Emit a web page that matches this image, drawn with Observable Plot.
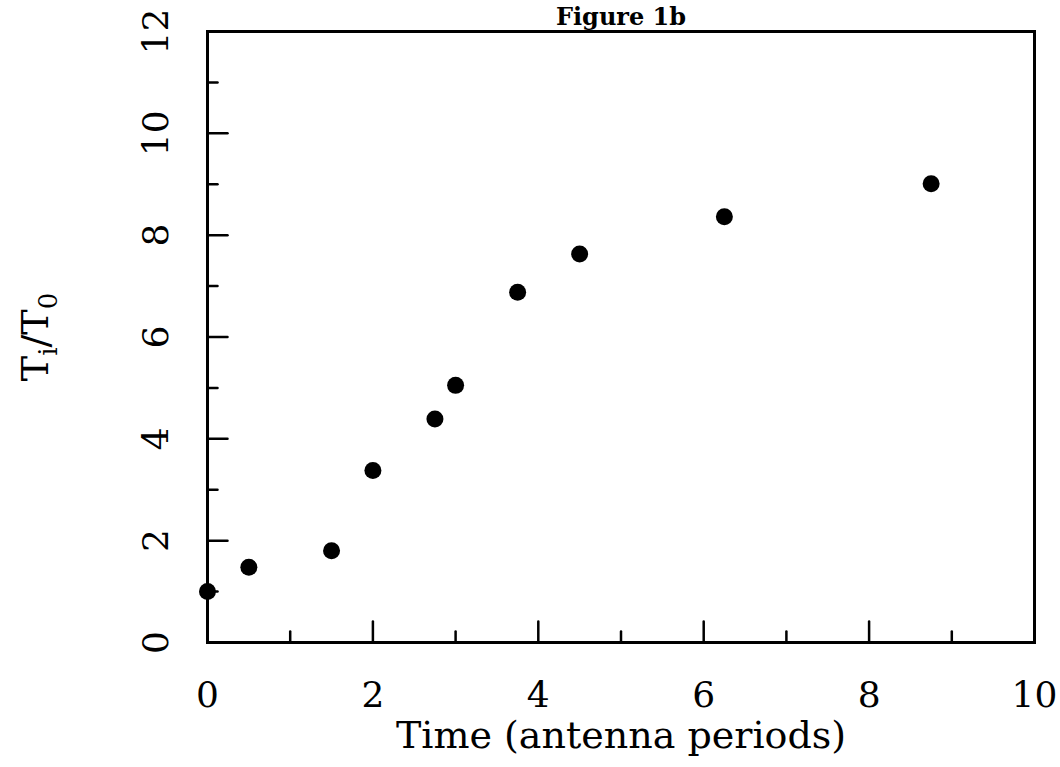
<!DOCTYPE html>
<html><head><meta charset="utf-8">
<script src="https://cdn.jsdelivr.net/npm/d3@7"></script>
<script src="https://cdn.jsdelivr.net/npm/@observablehq/plot@0.6"></script>
<style>html,body{margin:0;padding:0;background:#fff} #chart svg{display:block}</style>
</head><body><div id="chart"></div>
<script>
// Data
const times  = [0, 0.5, 1.5, 2, 2.75, 3, 3.75, 4.5, 6.25, 8.75];
const ratios = [1.0, 1.48, 1.8, 3.38, 4.39, 5.05, 6.88, 7.63, 8.36, 9.01];
const xTickLabels = [0, 2, 4, 6, 8, 10];
const xMajorTicks = [2, 4, 6, 8];
const xMinorTicks = [1, 3, 5, 7, 9];
const yTickLabels = [0, 2, 4, 6, 8, 10, 12];
const yMajorTicks = [2, 4, 6, 8, 10];
const yMinorTicks = [1, 3, 5, 7, 9, 11];
const titleText = "Figure 1b";
const xLabelText = "Time (antenna periods)";
const yLabelText = "Ti/T0";

const points = times.map((t, i) => ({t, r: ratios[i]}));
const font = "'DejaVu Serif', serif";
const tickShape = {draw(ctx, l) { ctx.moveTo(0, 0); ctx.lineTo(0, -l); }};

const plot = Plot.plot({
  width: 1060, height: 767,
  marginLeft: 207, marginRight: 26, marginTop: 31, marginBottom: 125,
  style: {fontFamily: font, color: "black", background: "white"},
  x: {domain: [0, 10]},
  y: {domain: [0, 12]},
  marks: [
    Plot.axisX({ticks: xTickLabels, tickSize: 0, tickPadding: 39, fontSize: 36, label: null, tickFormat: d => String(d)}),
    Plot.axisY({ticks: yTickLabels, tickSize: 0, tickPadding: 40, tickRotate: -90, fontSize: 36, label: null, tickFormat: d => String(d)}),
    Plot.vector(xMajorTicks, {x: d => d, y: 0, length: 21, rotate: 0, anchor: "start", shape: tickShape, stroke: "black", strokeWidth: 2.5}),
    Plot.vector(xMinorTicks, {x: d => d, y: 0, length: 11, rotate: 0, anchor: "start", shape: tickShape, stroke: "black", strokeWidth: 2.5}),
    Plot.vector(yMajorTicks, {x: 0, y: d => d, length: 20, rotate: 90, anchor: "start", shape: tickShape, stroke: "black", strokeWidth: 2.5}),
    Plot.vector(yMinorTicks, {x: 0, y: d => d, length: 10, rotate: 90, anchor: "start", shape: tickShape, stroke: "black", strokeWidth: 2.5}),
    Plot.frame({stroke: "black", strokeWidth: 3}),
    Plot.dot(points, {x: "t", y: "r", r: 8.5, fill: "black", stroke: "none"}),
    Plot.text([titleText], {frameAnchor: "top", text: d => d, dy: -24, lineAnchor: "top", textAnchor: "middle", fontSize: 24, fontWeight: "bold", fill: "black"}),
    Plot.text([xLabelText], {frameAnchor: "bottom", text: d => d, dy: 79, lineAnchor: "top", textAnchor: "middle", fontSize: 38, fill: "black"}),
    Plot.text([yLabelText], {frameAnchor: "left", text: d => d, dx: -172, rotate: -90, lineAnchor: "middle", textAnchor: "middle", fontSize: 38, fill: "black"})
  ]
});
document.getElementById("chart").appendChild(plot);

// Typeset subscripts in the y-axis label (T_i / T_0)
d3.select(plot).selectAll("text").filter(function() { return this.textContent === yLabelText; })
  .each(function() {
    const el = d3.select(this);
    el.text(null);
    el.append("tspan").text("T");
    el.append("tspan").attr("dy", 9).attr("font-size", 26).text("i");
    el.append("tspan").attr("dy", -9).text("/T");
    el.append("tspan").attr("dy", 9).attr("font-size", 26).text("0");
  });
</script>
</body></html>
